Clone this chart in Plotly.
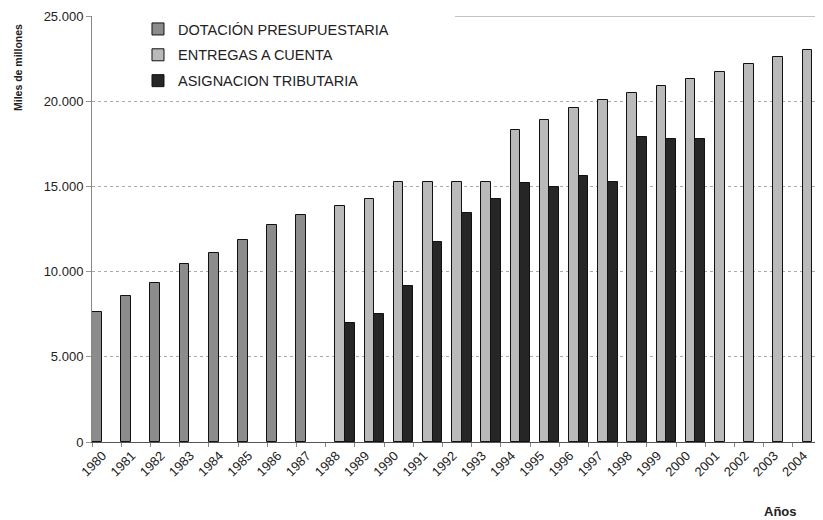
import plotly.graph_objects as go

years = [str(y) for y in range(1980, 2005)]

dotacion = [7650, 8590, 9330, 10430, 11090, 11860, 12710, 13340] + [None] * 17
entregas = [None] * 8 + [13870, 14280, 15260, 15270, 15270, 15270, 18290, 18920,
                         19600, 20090, 20490, 20870, 21310, 21720, 22170, 22600, 23030]
asignacion = [None] * 8 + [6990, 7510, 9130, 11720, 13440, 14260, 15200, 14970,
                           15630, 15240, 17880, 17790, 17790] + [None] * 4

series_names = ["DOTACIÓN PRESUPUESTARIA", "ENTREGAS A CUENTA", "ASIGNACION TRIBUTARIA"]
series_colors = ["#8c8c8c", "#bababa", "#262626"]

FONT = "Liberation Sans, Arial, sans-serif"

# page has an 8px body margin; plot area should sit at x 92..822, y 16..442 of the page
OFF = 8
PL, PR, PT, PB = 92, 822, 16, 442
PW, PH = PR - PL, PB - PT

fig = go.Figure()
for i, (name, vals, col) in enumerate(zip(series_names, [dotacion, entregas, asignacion], series_colors)):
    fig.add_trace(go.Bar(
        x=years, y=vals, name=name, legendgroup=f"g{i}",
        marker=dict(color=col, line=dict(color="#111111", width=1)),
    ))

fig.update_layout(
    width=823, height=520,
    margin=dict(l=PL - OFF, r=823 - (PR - OFF), t=PT - OFF, b=520 - (PB - OFF), autoexpand=False),
    paper_bgcolor="white", plot_bgcolor="white",
    barmode="group", bargap=0, bargroupgap=0,
    separators=",.",
    font=dict(family=FONT, color="#222222"),
    showlegend=True,
    legend=dict(
        x=0.063, y=1.007, xanchor="left", yanchor="top",
        bgcolor="rgba(0,0,0,0)", font=dict(size=14.5, family=FONT, color="#222"),
        tracegroupgap=4, itemclick=False,
    ),
    xaxis=dict(
        type="category", showline=True, linecolor="#555555", linewidth=1,
        ticks="outside", tickson="boundaries", ticklen=4, tickcolor="#888888",
        tickangle=-45, tickfont=dict(size=13, family=FONT, color="#222"),
        ticklabelshift=-4,
        showgrid=False, automargin=False,
    ),
    yaxis=dict(
        range=[0, 25000], dtick=5000, tickformat=",d",
        showline=True, linecolor="#888888", linewidth=1,
        ticks="outside", ticklen=5, tickcolor="#999999",
        tickfont=dict(size=13, family=FONT, color="#222"),
        showgrid=True, gridcolor="#aaaaaa", griddash="dot", gridwidth=1,
        zeroline=False, automargin=False,
    ),
    shapes=[
        dict(type="rect", xref="paper", yref="y", x0=0.002, x1=(455 - PL) / PW, y0=24700, y1=25000,
             fillcolor="white", line=dict(width=0), layer="between"),
        dict(type="line", xref="paper", yref="y", x0=(455 - PL) / PW, x1=1, y0=25000, y1=25000,
             line=dict(color="#888888", width=1), layer="between"),
    ],
    annotations=[
        dict(text="<b>Miles de millones</b>", xref="paper", yref="paper",
             x=(18 - PL) / PW, y=(PB - 68) / PH, xanchor="center", yanchor="middle",
             textangle=-90, showarrow=False, font=dict(size=10.5, family=FONT, color="#222")),
        dict(text="<b>Años</b>", xref="paper", yref="paper",
             x=(780 - PL) / PW, y=-(511 - PB) / PH, xanchor="center", yanchor="middle",
             showarrow=False, font=dict(size=13, family=FONT, color="#222")),
    ],
)

fig.write_html("out.html")
